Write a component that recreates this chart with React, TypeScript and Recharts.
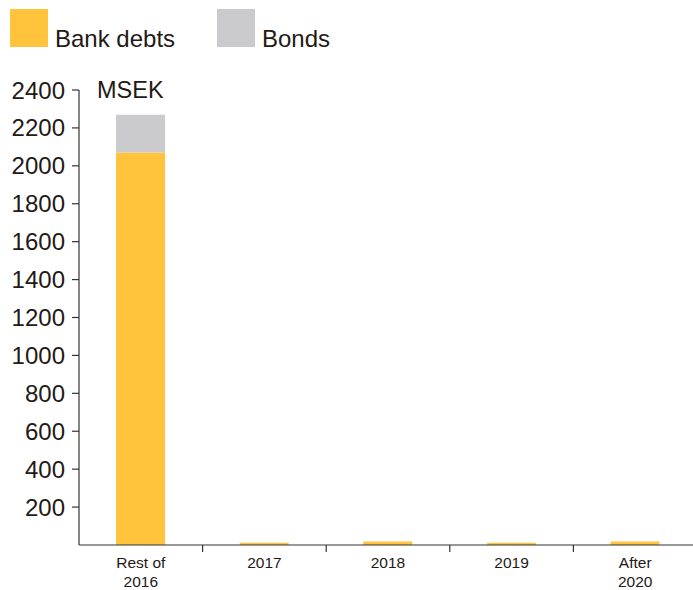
import { Bar, BarChart, XAxis, YAxis } from "recharts";

const categories = ["Rest of\n2016", "2017", "2018", "2019", "After\n2020"];
const bankDebts = [2070, 12, 18, 12, 18];
const bonds = [200, 0, 0, 0, 0];
const yTicks = [200, 400, 600, 800, 1000, 1200, 1400, 1600, 1800, 2000, 2200, 2400];

const ORANGE = "#FFC43B";
const GREY = "#CBCBCD";
const INK = "#231916";
const FONT = "'Liberation Sans', Arial, Helvetica, sans-serif";

const data = categories.map((name, i) => ({
  name,
  bank: bankDebts[i],
  bonds: bonds[i],
}));

const XTick = (props: any) => {
  const { x, y, payload, index } = props;
  const lines = String(payload.value).split("\n");
  const half = payload.offset ?? 62;
  const axisY = y - 8;
  return (
    <g>
      {index < categories.length - 1 && (
        <line x1={x + half} x2={x + half} y1={axisY} y2={axisY + 7} stroke="#333" strokeWidth={1.2} />
      )}
      <text x={x} y={y + 15} textAnchor="middle" fontSize={15.5} fill={INK} fontFamily={FONT}>
        {lines.map((l, i) => (
          <tspan key={i} x={x} dy={i === 0 ? 0 : 19}>
            {l}
          </tspan>
        ))}
      </text>
    </g>
  );
};

const LegendItem = ({ color, label, left }: { color: string; label: string; left: number }) => (
  <div style={{ position: "absolute", left, top: 9, display: "flex", alignItems: "flex-end" }}>
    <div style={{ width: 38, height: 38, background: color }} />
    <span style={{ marginLeft: 7, fontSize: 24, lineHeight: "24px", color: INK, fontFamily: FONT, marginBottom: -4 }}>
      {label}
    </span>
  </div>
);

export default function App() {
  return (
    <div style={{ position: "absolute", left: 0, top: 0, width: 693, height: 590, overflow: "hidden", background: "#fff" }}>
      <LegendItem color={ORANGE} label="Bank debts" left={10} />
      <LegendItem color={GREY} label="Bonds" left={217} />
      <BarChart
        width={693}
        height={590}
        data={data}
        margin={{ top: 90, right: -4, bottom: 0, left: 0 }}
        barCategoryGap="30%"
      >
        <XAxis
          dataKey="name"
          height={45}
          axisLine={{ stroke: "#333", strokeWidth: 1.2 }}
          tickLine={false}
          tick={<XTick />}
          interval={0}
        />
        <YAxis
          width={79}
          domain={[0, 2400]}
          ticks={yTicks}
          allowDataOverflow
          axisLine={{ stroke: "#333", strokeWidth: 1.2 }}
          tickLine={{ stroke: "#333", strokeWidth: 1.2 }}
          tickSize={7}
          tickMargin={7}
          tick={{ fontSize: 24, fill: INK, fontFamily: FONT }}
          label={{
            content: (p: any) => (
              <text x={p.viewBox.x + p.viewBox.width + 18} y={p.viewBox.y + 8} fontSize={23.5} fill={INK} fontFamily={FONT}>
                MSEK
              </text>
            ),
          }}
        />
        <Bar dataKey="bank" stackId="a" fill={ORANGE} isAnimationActive={false} />
        <Bar dataKey="bonds" stackId="a" fill={GREY} isAnimationActive={false} />
      </BarChart>
    </div>
  );
}
